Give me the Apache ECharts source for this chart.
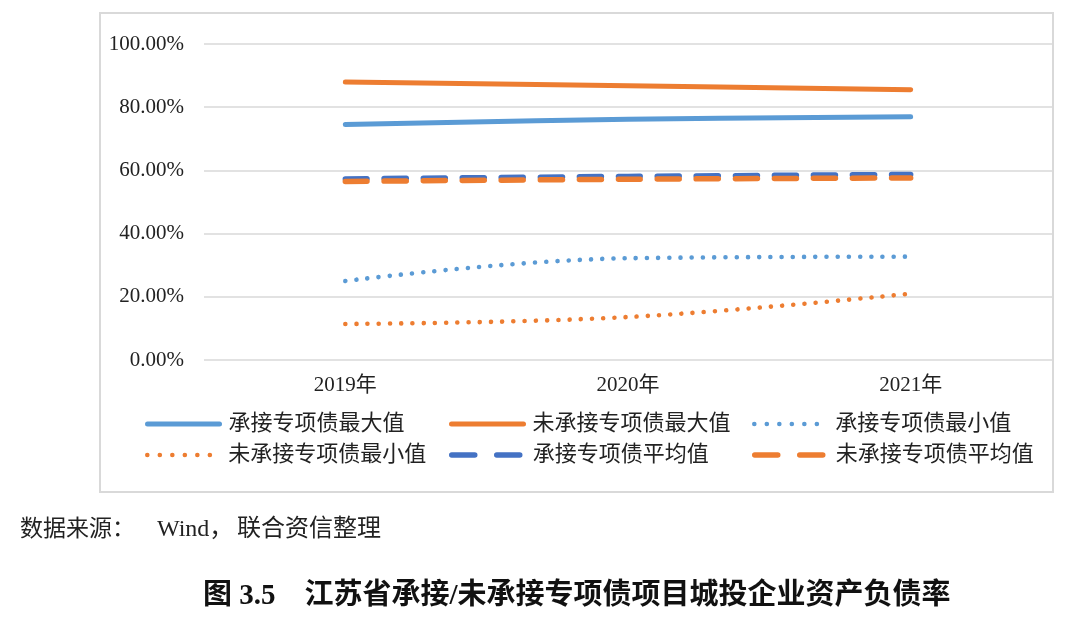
<!DOCTYPE html>
<html>
<head>
<meta charset="utf-8">
<script src="https://cdn.jsdelivr.net/npm/echarts@6/dist/echarts.min.js"></script>
<style>
html,body{margin:0;padding:0;background:#fff;}
#c{width:1080px;height:621px;}
</style>
</head>
<body>
<div id="c"></div>
<script>
var categories = ['2019年', '2020年', '2021年'];
var yTicks = [0, 20, 40, 60, 80, 100];
var seriesNames = ['承接专项债最大值', '未承接专项债最大值', '承接专项债最小值', '未承接专项债最小值', '承接专项债平均值', '未承接专项债平均值'];
var blueMax = [74.5, 76.2, 77.0];
var orangeMax = [88.0, 86.8, 85.5];
var blueMin = [25.0, 32.2, 32.7];
var orangeMin = [11.4, 13.6, 21.0];
var blueAvg = [57.3, 58.1, 58.7];
var orangeAvg = [56.5, 57.2, 57.6];
var sourceLabel = '数据来源：';
var sourceWind = 'Wind，';
var sourceOrg = '联合资信整理';
var titleText = '图 3.5    江苏省承接/未承接专项债项目城投企业资产负债率';

var BLUE = '#5B9BD5', ORANGE = '#ED7D31', DBLUE = '#4472C4';
var serif = '"Liberation Serif", "Noto Sans CJK SC", serif';
var DOT = [0.01, 11.2], DASH = [22, 17];

function widthOf(type) { return type === 'solid' ? 5 : (type === DOT ? 4.6 : 5.5); }
function mk(name, data, color, type) {
  return {
    name: name, type: 'line', data: data, smooth: 0.4, symbol: 'none',
    lineStyle: { color: color, width: widthOf(type), type: type, cap: 'round', join: 'round' },
    itemStyle: { color: color },
    emphasis: { disabled: true }
  };
}
var seriesData = [blueMax, orangeMax, blueMin, orangeMin, blueAvg, orangeAvg];
var colors = [BLUE, ORANGE, BLUE, ORANGE, DBLUE, ORANGE];
var types = ['solid', 'solid', DOT, DOT, DASH, DASH];
var legendTypes = ['solid', 'solid', [0.01, 12.5], [0.01, 12.5], [23, 22], [23, 22]];
var series = seriesNames.map(function (n, i) { return mk(n, seriesData[i], colors[i], types[i]); });

var legendPos = [[145, 413], [449, 413], [752, 413], [145, 444], [449, 444], [752, 444]];
var legends = seriesNames.map(function (n, i) {
  return {
    data: [n], left: legendPos[i][0], top: legendPos[i][1], padding: 0,
    itemWidth: 72, itemHeight: 24, itemGap: 0, selectedMode: false,
    itemStyle: { opacity: 0 },
    lineStyle: { color: colors[i], width: widthOf(types[i]), type: legendTypes[i], cap: 'round' },
    textStyle: { fontFamily: serif, fontSize: 22, color: '#222', padding: [0, 0, 0, 4] }
  };
});

var chart = echarts.init(document.getElementById('c'), null, { renderer: 'canvas' });
function srcText(x, txt, size) {
  return { type: 'text', style: { x: x, y: 530, text: txt, verticalAlign: 'middle', align: 'left',
    font: size + 'px "Liberation Serif", "Noto Sans CJK SC", serif', fill: '#222' } };
}
chart.setOption({
  animation: false,
  backgroundColor: '#fff',
  grid: { left: 204, right: 28, top: 44, bottom: 261 },
  xAxis: {
    type: 'category', data: categories, boundaryGap: true,
    axisLine: { show: false }, axisTick: { show: false },
    axisLabel: { fontFamily: serif, fontSize: 21, color: '#222', margin: 15 }
  },
  yAxis: {
    type: 'value', min: 0, max: 100, interval: 20,
    axisLine: { show: false }, axisTick: { show: false },
    splitLine: { lineStyle: { color: '#d9d9d9', width: 1.5 } },
    axisLabel: { fontFamily: serif, fontSize: 21, color: '#222', margin: 20,
      formatter: function (v) { return yTicks.indexOf(v) >= 0 ? v.toFixed(2) + '%' : ''; } }
  },
  legend: legends,
  series: series,
  graphic: [
    { type: 'rect', shape: { x: 100, y: 13, width: 953, height: 479 }, style: { fill: null, stroke: '#d9d9d9', lineWidth: 2 }, silent: true, z: -1 },
    srcText(20, sourceLabel, 23),
    srcText(157, sourceWind, 24),
    srcText(237, sourceOrg, 24),
    { type: 'text', style: { x: 203, y: 597, text: titleText, verticalAlign: 'middle', align: 'left',
      font: 'bold 29px "Liberation Serif", "Noto Sans CJK SC", serif', fill: '#111' } }
  ]
});
</script>
</body>
</html>
